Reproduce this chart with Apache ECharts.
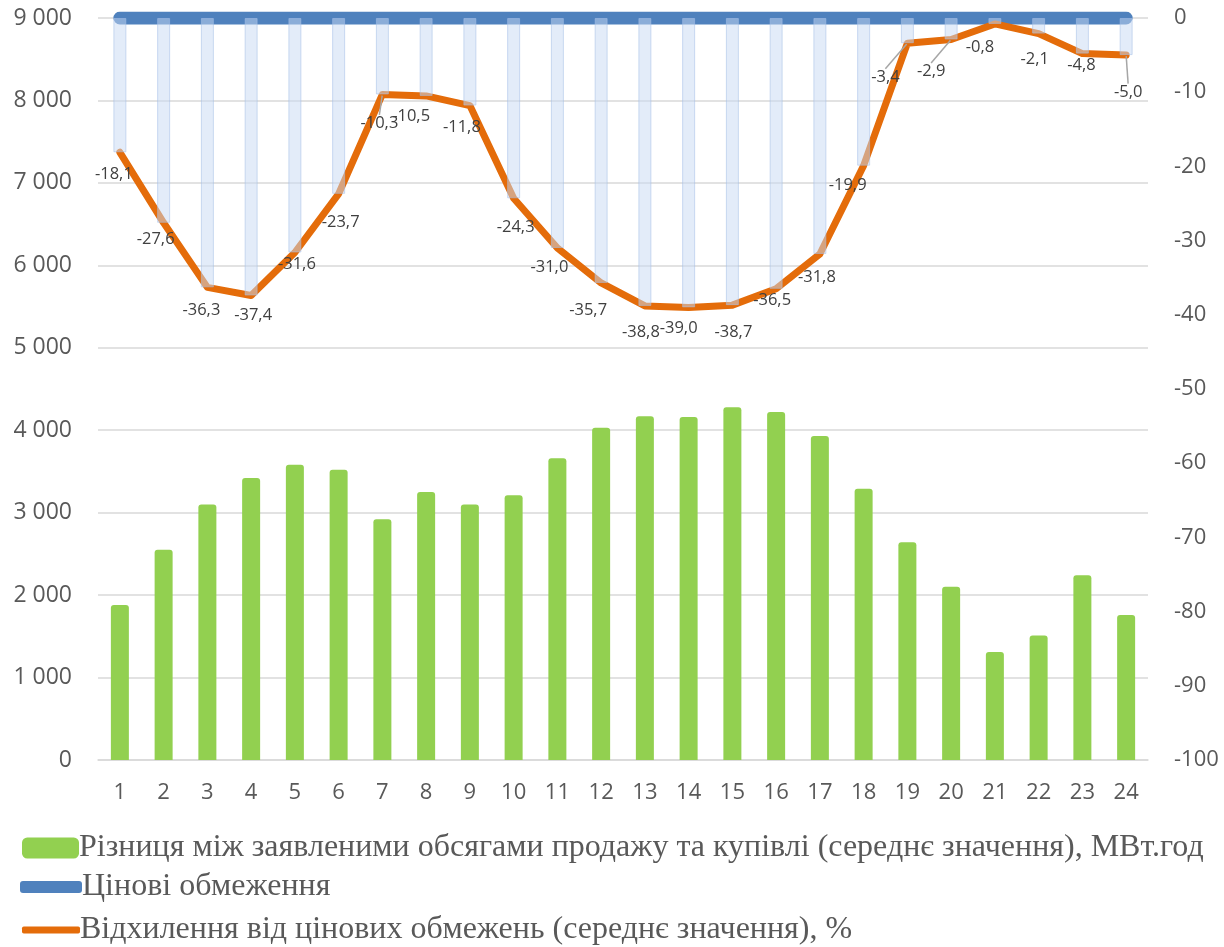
<!DOCTYPE html>
<html>
<head>
<meta charset="utf-8">
<script src="https://cdn.jsdelivr.net/npm/echarts@6/dist/echarts.min.js"></script>
<style>
  html, body { margin: 0; padding: 0; background: #fff; }
  #main { width: 1224px; height: 947px; }
</style>
</head>
<body>
<div id="main"></div>
<script>
// години доби
var hours = ["1","2","3","4","5","6","7","8","9","10","11","12","13","14","15","16","17","18","19","20","21","22","23","24"];
// різниця між заявленими обсягами, МВт.год
var volumeDiff = [1880, 2550, 3100, 3420, 3580, 3520, 2920, 3250, 3100, 3210, 3660, 4030, 4170, 4160, 4280, 4220, 3930, 3290, 2640, 2100, 1310, 1510, 2240, 1760];
// відхилення від цінових обмежень, %
var deviation = [-18.1, -27.6, -36.3, -37.4, -31.6, -23.7, -10.3, -10.5, -11.8, -24.3, -31.0, -35.7, -38.8, -39.0, -38.7, -36.5, -31.8, -19.9, -3.4, -2.9, -0.8, -2.1, -4.8, -5.0];
// цінові обмеження (рівень 0)
var priceLimit = [0, 0, 0, 0, 0, 0, 0, 0, 0, 0, 0, 0, 0, 0, 0, 0, 0, 0, 0, 0, 0, 0, 0, 0];

var leftTicks = { min: 0, max: 9000, interval: 1000 };
var rightTicks = { min: -100, max: 0, interval: 10 };

// зсув підписів відносно точки (як в Excel)
var labelShift = [[-6,22],[-8,17],[-6,23],[2,20],[2,12],[2,28],[-3,29],[-15,20],[-8,22],[2,29],[-8,19],[-13,27],
                  [-4,26],[-10,21],[1,27],[-4,11],[-3,23],[-16,20],[-22,34],[-20,32],[-15,23],[-4,26],[-1,12],[2,37]];
var withGuide = [6, 18, 19, 23];

var chart = echarts.init(document.getElementById("main"));

function thousands(v) {
  return String(v).replace(/\B(?=(\d{3})+(?!\d))/g, " ");
}

var legendText = { fontFamily: "Liberation Serif", fontSize: 32, color: "#595959", padding: [0, 0, 0, -5] };

chart.setOption({
  animation: false,
  grid: { left: 98, right: 76, top: 18, bottom: 187 },
  legend: [
    { left: 22, top: 832, padding: 0, itemWidth: 57, itemHeight: 21, itemGap: 0, icon: "roundRect",
      textStyle: legendText, data: ["Різниця між заявленими обсягами продажу та купівлі (середнє значення), МВт.год"] },
    { left: 20, top: 871, padding: 0, itemWidth: 62, itemHeight: 12, itemGap: 0, icon: "roundRect",
      textStyle: legendText, data: ["Цінові обмеження"] },
    { left: 22, top: 914, padding: 0, itemWidth: 58, itemHeight: 7, itemGap: 0, icon: "roundRect",
      textStyle: legendText, data: ["Відхилення від цінових обмежень (середнє значення), %"] }
  ],
  xAxis: [
    {
      type: "category",
      data: hours,
      axisTick: { show: false },
      axisLine: { lineStyle: { color: "#d9d9d9", width: 1.5 } },
      axisLabel: { color: "#595959", fontSize: 22, fontFamily: "Open Sans", margin: 22 }
    },
    { type: "category", data: hours, show: false }
  ],
  yAxis: [
    {
      type: "value",
      min: leftTicks.min, max: leftTicks.max, interval: leftTicks.interval,
      axisLine: { show: false },
      axisTick: { show: false },
      splitLine: { lineStyle: { color: "#d9d9d9", width: 1.5 } },
      axisLabel: { color: "#595959", fontSize: 23, fontFamily: "Open Sans", margin: 26, formatter: thousands }
    },
    {
      type: "value",
      min: rightTicks.min, max: rightTicks.max, interval: rightTicks.interval,
      axisLine: { show: false },
      axisTick: { show: false },
      splitLine: { show: false },
      axisLabel: { color: "#595959", fontSize: 22, fontFamily: "Open Sans", margin: 26 }
    }
  ],
  series: [
    {
      name: "Різниця між заявленими обсягами продажу та купівлі (середнє значення), МВт.год",
      type: "bar",
      data: volumeDiff,
      barWidth: 18,
      z: 2,
      itemStyle: { color: "#92d050", borderRadius: [3, 3, 0, 0] }
    },
    {
      name: "Цінові обмеження",
      type: "line",
      yAxisIndex: 1,
      data: priceLimit,
      showSymbol: false,
      z: 3,
      itemStyle: { color: "#4f81bd" },
      lineStyle: { color: "#4f81bd", width: 13, cap: "round" }
    },
    {
      name: "Відхилення від цінових обмежень (середнє значення), %",
      type: "line",
      yAxisIndex: 1,
      data: deviation.map(function (v, i) {
        return { value: v, labelLine: { show: withGuide.indexOf(i) >= 0 } };
      }),
      symbol: "circle",
      symbolSize: 2,
      z: 4,
      itemStyle: { color: "#e46c0a" },
      lineStyle: { color: "#e46c0a", width: 7, cap: "round", join: "round" },
      label: {
        show: true,
        position: "inside",
        color: "#404040",
        fontSize: 16.5,
        fontFamily: "Open Sans",
        formatter: function (p) { return p.value.toFixed(1).replace(".", ","); }
      },
      labelLine: { show: false, lineStyle: { color: "#a6a6a6", width: 1.5 } },
      labelLayout: function (p) {
        var s = labelShift[p.dataIndex];
        return { dx: s[0], dy: s[1] };
      }
    },
    {
      name: "drop",
      type: "bar",
      xAxisIndex: 1,
      yAxisIndex: 1,
      data: deviation,
      barWidth: 13,
      z: 5,
      silent: true,
      itemStyle: { color: "rgba(200,217,243,0.5)", borderColor: "rgba(165,192,232,0.55)", borderWidth: 1 }
    }
  ]
});
</script>
</body>
</html>
